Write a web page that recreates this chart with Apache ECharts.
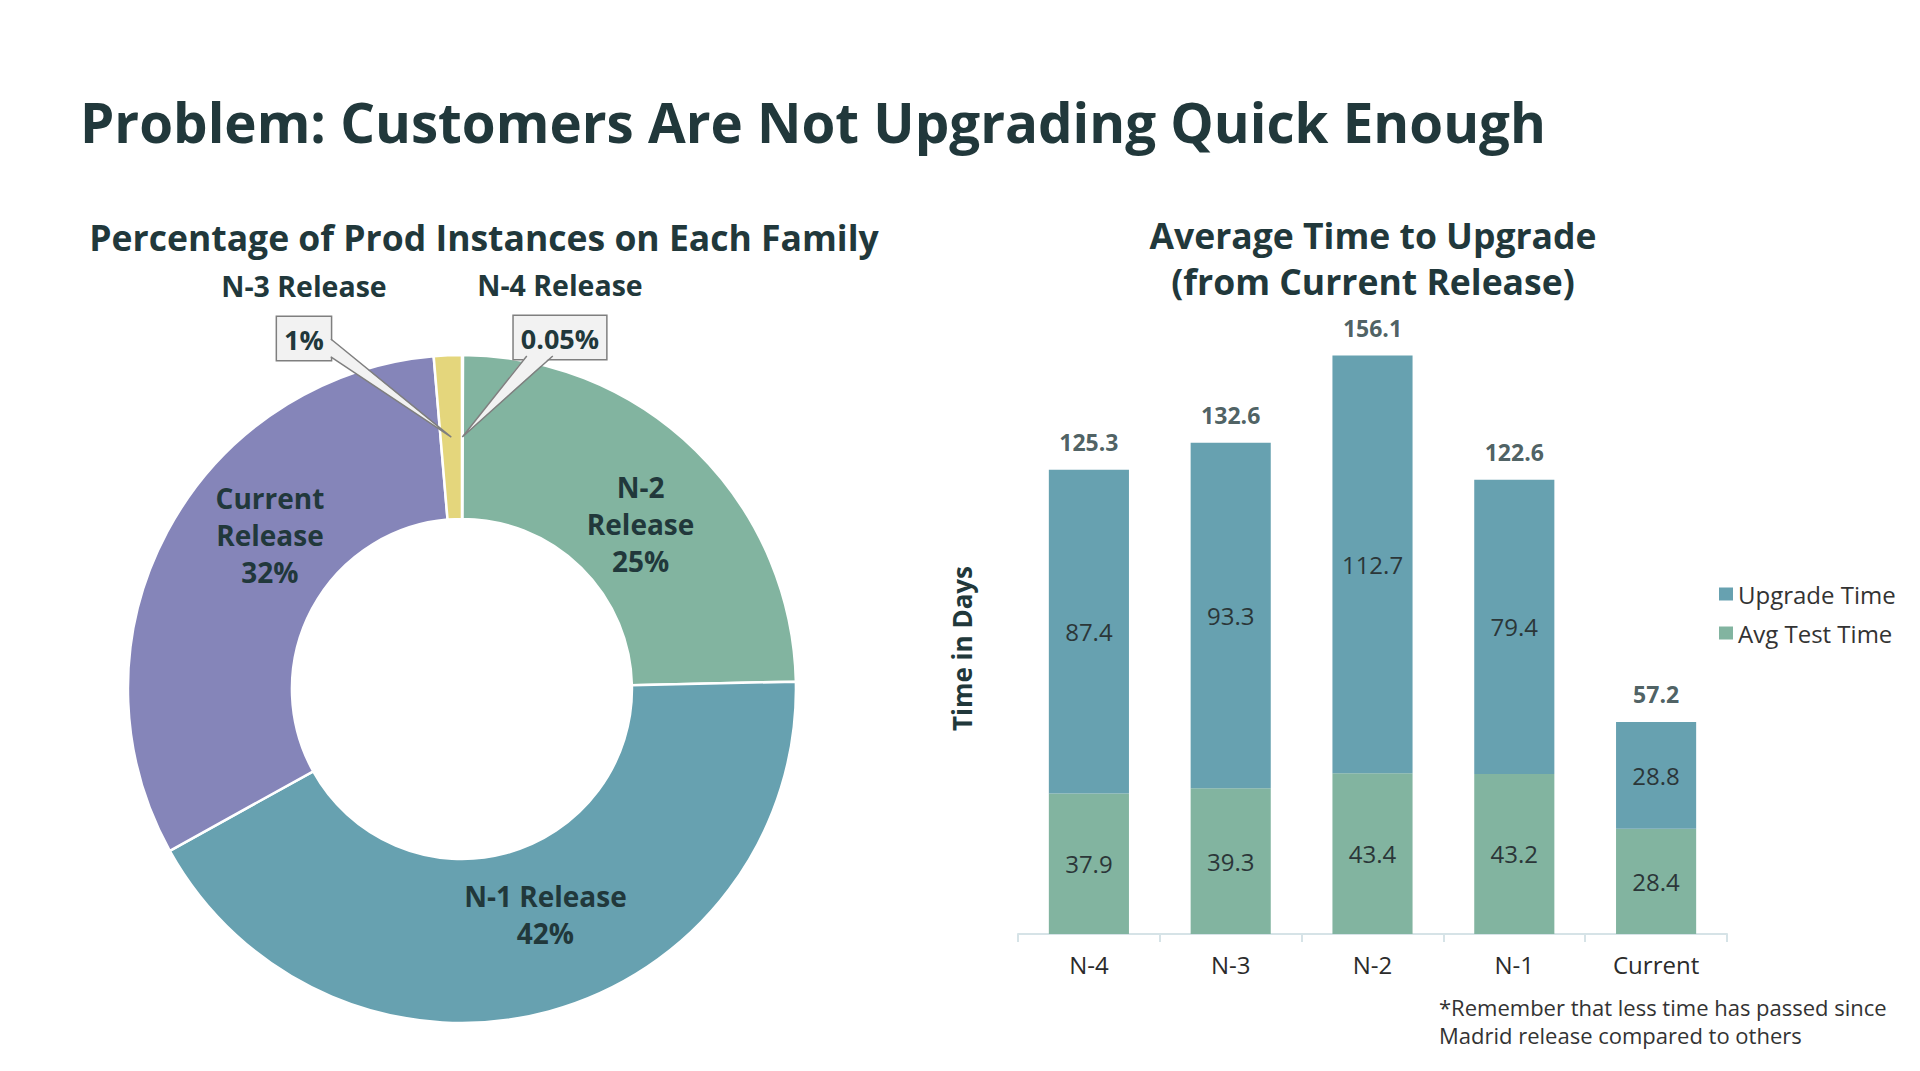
<!DOCTYPE html>
<html><head><meta charset="utf-8">
<script src="https://cdn.jsdelivr.net/npm/echarts@6/dist/echarts.min.js"></script>
<style>html,body{margin:0;padding:0;background:#fff}#c{width:1920px;height:1071px}</style>
</head><body><div id="c"></div>
<script>
// ---- data ----
const pieNames = ['N-4 Release', 'N-2 Release', 'N-1 Release', 'Current Release', 'N-3 Release'];
const pieLabelText = ['N-4 Release', 'N-2\nRelease', 'N-1 Release', 'Current\nRelease', 'N-3 Release'];
const pieValues = [0.05, 24.6, 42.3, 31.7, 1.35];
const pieColors = ['#b9cfd6', '#82b4a0', '#67a1b0', '#8585b9', '#e4d67c'];

const categories = ['N-4', 'N-3', 'N-2', 'N-1', 'Current'];
const testTime = [37.9, 39.3, 43.4, 43.2, 28.4];
const upgradeTime = [87.4, 93.3, 112.7, 79.4, 28.8];

// ---- style ----
const FONT = '"Open Sans", sans-serif';
const DARK = '#21383b';
const TEAL = '#67a1b0';
const GREEN = '#82b4a0';
const BOXFS = 27, BOXPAD = [9, 7, 7, 7];

const totals = testTime.map((t, i) => +(t + upgradeTime[i]).toFixed(1));
const pct = v => (v < 1 ? v + '%' : Math.round(v) + '%');

const chart = echarts.init(document.getElementById('c'), null, { renderer: 'svg' });

const PIE_CX = 0.2406, PIE_CY = 0.6433, PIE_R0 = 170, PIE_R = 334;
const insideOffsets = { 1: [0, 17], 2: [17, -21], 3: [33, -34] };
// callout anchors relative to pie centre (bottom-centre of the label block)
const calloutAnchor = { 4: [-158, -332], 0: [98, -333] };
const boxes = {};

const option = {
  backgroundColor: '#fff',
  animation: false,
  textStyle: { fontFamily: FONT },
  graphic: [
    { id: 't1', type: 'text', x: 80, y: 122, style: { text: 'Problem: Customers Are Not Upgrading Quick Enough', font: 'bold 54.7px ' + FONT, fill: DARK, textAlign: 'left', textVerticalAlign: 'middle' } },
    { id: 't2', type: 'text', x: 484, y: 237, style: { text: 'Percentage of Prod Instances on Each Family', font: 'bold 35.5px ' + FONT, fill: DARK, textAlign: 'center', textVerticalAlign: 'middle' } },
    { id: 't3', type: 'text', x: 1373, y: 258, style: { text: 'Average Time to Upgrade\n(from Current Release)', font: 'bold 35.5px ' + FONT, lineHeight: 46.5, fill: DARK, textAlign: 'center', textVerticalAlign: 'middle' } },
    { id: 't4', type: 'text', x: 1439, y: 1021, style: { text: '*Remember that less time has passed since\nMadrid release compared to others', font: '22px ' + FONT, lineHeight: 28, fill: '#333', textAlign: 'left', textVerticalAlign: 'middle' } }
  ],
  legend: {
    orient: 'vertical', left: 1714, top: 577, itemWidth: 14, itemHeight: 13, itemGap: 15,
    icon: 'rect', data: ['Upgrade Time', 'Avg Test Time'],
    textStyle: { fontSize: 24, color: '#333', fontFamily: FONT }
  },
  grid: { left: 1018, right: 193, top: 267, bottom: 137 },
  xAxis: {
    type: 'category', data: categories,
    axisLine: { lineStyle: { color: '#d6e3e7', width: 2 } },
    axisTick: { show: true, length: 8, lineStyle: { color: '#d6e3e7', width: 2 } },
    axisLabel: { fontSize: 24, color: '#2b2b2b', margin: 18, fontFamily: FONT }
  },
  yAxis: {
    type: 'value', min: 0, max: 180,
    axisLine: { show: false }, axisTick: { show: false }, axisLabel: { show: false }, splitLine: { show: false },
    name: 'Time in Days', nameLocation: 'middle', nameGap: 43, nameRotate: 90,
    nameTextStyle: { fontSize: 26, fontWeight: 'bold', color: DARK, fontFamily: FONT, padding: [0, 96, 0, 0] }
  },
  series: [
    {
      name: 'Avg Test Time', type: 'bar', stack: 't', data: testTime, barCategoryGap: '43.5%',
      itemStyle: { color: GREEN },
      label: { show: true, position: 'inside', fontSize: 24, color: '#2b3638', fontFamily: FONT }
    },
    {
      name: 'Upgrade Time', type: 'bar', stack: 't', data: upgradeTime,
      itemStyle: { color: TEAL },
      label: { show: true, position: 'inside', fontSize: 24, color: '#2b3638', fontFamily: FONT }
    },
    {
      name: 'Total', type: 'scatter', data: totals, symbolSize: 1, silent: true,
      itemStyle: { color: 'rgba(0,0,0,0)' },
      label: { show: true, position: 'top', distance: 16, fontSize: 23, fontWeight: 'bold', color: DARK, fontFamily: FONT }
    },
    {
      name: 'Share', type: 'pie', center: [PIE_CX * 100 + '%', PIE_CY * 100 + '%'], radius: [PIE_R0, PIE_R],
      startAngle: 90, clockwise: true, avoidLabelOverlap: false, silent: true,
      itemStyle: { borderColor: '#fff', borderWidth: 2.5 },
      label: {
        show: true, position: 'inside', fontSize: 28, fontWeight: 'bold', lineHeight: 37, color: DARK, fontFamily: FONT,
        formatter: p => pieLabelText[p.dataIndex] + '\n' + pct(p.value)
      },
      labelLine: { show: false },
      labelLayout: function (params) {
        const i = params.dataIndex;
        const W = chart.getWidth(), H = chart.getHeight();
        const cx = PIE_CX * W, cy = PIE_CY * H;
        if (calloutAnchor[i]) {
          const ax = cx + calloutAnchor[i][0], ay = cy + calloutAnchor[i][1];
          boxes[i] = { ax: ax, ay: ay };
          return { x: ax, y: ay, align: 'center', verticalAlign: 'bottom' };
        }
        const o = insideOffsets[i];
        return o ? { dx: o[0], dy: o[1] } : {};
      },
      data: pieValues.map((v, i) => {
        const d = { name: pieNames[i], value: v, itemStyle: { color: pieColors[i] } };
        if (calloutAnchor[i]) {
          d.label = {
            position: 'outside', align: 'center',
            formatter: p => '{n|' + pieLabelText[p.dataIndex] + '}\n{b|' + pct(p.value) + '}',
            rich: {
              n: { fontSize: 28.5, fontWeight: 'bold', color: DARK, lineHeight: 68, align: 'center', fontFamily: FONT },
              b: { fontSize: BOXFS, fontWeight: 'bold', color: DARK, align: 'center', fontFamily: FONT,
                   backgroundColor: '#f2f2f2', borderColor: '#7f7f7f', borderWidth: 1.5, padding: BOXPAD }
            }
          };
        }
        return d;
      })
    }
  ]
};
chart.setOption(option);

// ---- wedge callouts pointing from the label boxes into the small slices ----
const mctx = document.createElement('canvas').getContext('2d');
function textW(t, font) { mctx.font = font; return mctx.measureText(t).width; }
function drawCallouts() {
  let data;
  try { data = chart.getModel().getSeriesByIndex(3).getData(); } catch (e) { return; }
  const zr = chart.getZr();
  const G = echarts.graphic;
  if (!G || !G.Polygon || !G.Polyline) return;
  Object.keys(calloutAnchor).forEach(k => {
    const i = +k;
    const L = data.getItemLayout(i);
    const b = boxes[i];
    if (!L || !b) return;
    const mid = (L.startAngle + L.endAngle) / 2;
    const rm = (L.r + L.r0) / 2;
    const tip = [L.cx + rm * Math.cos(mid), L.cy + rm * Math.sin(mid)];
    const w = textW(pct(pieValues[i]), 'bold ' + BOXFS + 'px ' + FONT) + BOXPAD[1] + BOXPAD[3];
    const left = b.ax - w / 2, right = b.ax + w / 2, bottom = b.ay;
    let p1, p2, q1, q2;
    if (tip[0] > right) { // base on right edge, near bottom
      p1 = [right, bottom - 18]; p2 = [right, bottom];
      q1 = [right - 1, bottom - 18]; q2 = [right - 1, bottom - 1];
    } else { // base on bottom edge
      p1 = [left + 13, bottom]; p2 = [left + 39, bottom];
      q1 = [left + 13, bottom - 1]; q2 = [left + 39, bottom - 1];
    }
    zr.add(new G.Polygon({ z: 10, silent: true, shape: { points: [q1, tip, q2] }, style: { fill: '#f2f2f2', stroke: null } }));
    zr.add(new G.Polyline({ z: 10, silent: true, shape: { points: [p1, tip, p2] }, style: { fill: null, stroke: '#7f7f7f', lineWidth: 1.5 } }));
  });
  if (zr.refreshImmediately) zr.refreshImmediately();
}
drawCallouts();
</script>
</body></html>
